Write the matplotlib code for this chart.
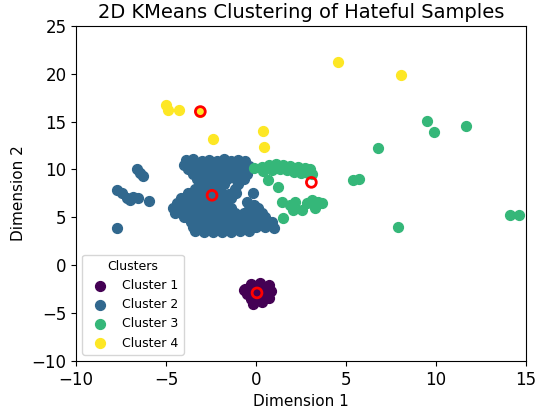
import matplotlib
matplotlib.use("Agg")
import matplotlib.pyplot as plt
import numpy as np

# Cluster 1 (purple)
c1_x = [-0.3, 0.2, 0.7, -0.7, -0.6, -0.1, 0.4, 0.8, -0.5, 0.0, 0.5, -0.3, 0.2, 0.7, -0.1, 0.3, -0.2]
c1_y = [-2.0, -1.9, -2.1, -2.6, -2.5, -2.5, -2.5, -2.7, -3.0, -3.0, -3.1, -3.5, -3.5, -3.4, -3.9, -3.9, -4.1]

# Cluster 2 (blue)
c2_x = [-3.9, -3.5, -3.0, -2.6, -2.2, -1.8, -1.4, -1.0, -0.6,
        -4.0, -3.6, -3.2, -2.8, -2.3, -1.9, -1.5, -1.1, -0.7, -0.4,
        -3.8, -3.4, -3.0, -2.5, -2.1, -1.6, -1.2, -0.8, -0.4,
        -3.5, -3.1, -2.7, -2.2, -1.8, -1.3, -0.9, -0.5,
        -3.3, -2.9, -2.4, -2.0, -1.6, -1.1, -0.7,
        -3.1, -2.7, -2.2, -1.8, -1.0,
        -3.4, -2.9, -2.5, -2.0, -1.2,
        -3.8, -3.3, -2.9, -2.4, -2.0, -1.5, -1.1, -0.2,
        -4.2, -3.7, -3.2, -2.8, -2.3, -1.9, -1.4,
        -4.4, -3.9, -3.5, -3.0, -2.6, -2.1, -1.7, -0.5, -0.1,
        -4.6, -4.1, -3.6, -3.2, -2.7, -2.3, -1.8, -1.4, -0.4, 0.1,
        -4.5, -4.0, -3.5, -3.1, -2.6, -2.2, -1.7, -1.2, -0.7, -0.2, 0.3,
        -4.0, -3.5, -3.0, -2.5, -2.0, -1.5, -1.0, -0.5, 0.0, 0.5,
        -3.6, -3.1, -2.6, -2.1, -1.6, -1.1, -0.6, -0.1, 0.4, 0.9,
        -3.5, -3.0, -2.5, -2.0, -1.5, -1.0, -0.5, 0.0, 0.5, 1.0,
        -3.4, -2.9, -2.4, -1.9, -1.4, -0.9, -0.4,
        -6.6, -6.45, -6.3, -7.74, -7.46, -7.18, -6.82, -6.54, -7.0, -5.93, -7.74]
c2_y = [11.0, 11.1, 10.9, 11.0, 10.9, 11.1, 10.9, 11.0, 10.9,
        10.5, 10.5, 10.5, 10.5, 10.5, 10.5, 10.5, 10.5, 10.5, 10.4,
        10.0, 10.0, 10.0, 10.0, 10.0, 10.0, 10.0, 10.0, 10.0,
        9.5, 9.5, 9.5, 9.5, 9.5, 9.5, 9.5, 9.5,
        9.0, 9.0, 9.0, 9.0, 9.0, 9.0, 9.0,
        8.5, 8.5, 8.5, 8.5, 8.5,
        8.0, 8.0, 8.0, 8.0, 8.0,
        7.5, 7.5, 7.5, 7.5, 7.5, 7.4, 7.5, 7.5,
        7.0, 7.0, 7.0, 7.0, 7.0, 7.0, 7.0,
        6.5, 6.5, 6.5, 6.5, 6.5, 6.5, 6.5, 6.6, 6.3,
        6.0, 6.0, 6.0, 6.0, 6.0, 6.0, 6.0, 6.0, 5.9, 6.0,
        5.5, 5.5, 5.5, 5.5, 5.5, 5.5, 5.5, 5.5, 5.5, 5.5, 5.5,
        5.0, 5.0, 5.0, 5.0, 5.0, 5.0, 5.0, 5.0, 5.0, 5.0,
        4.5, 4.5, 4.5, 4.5, 4.5, 4.5, 4.5, 4.5, 4.5, 4.5,
        4.0, 4.0, 4.0, 4.0, 4.0, 4.0, 4.0, 4.0, 4.0, 3.9,
        3.6, 3.5, 3.5, 3.5, 3.5, 3.6, 3.6,
        10.0, 9.6, 9.3, 7.86, 7.5, 7.0, 7.17, 7.0, 6.82, 6.71, 3.92]

# Cluster 3 (green)
c3_x = [-0.1, 0.3, 0.7, 1.1, 1.5, 1.9, 2.3, 2.7, 3.0,
        0.4, 0.9, 1.3, 1.7, 2.1, 2.5, 2.9, 3.1,
        0.68, 1.24,
        1.43, 1.89, 2.17, 2.54, 2.82, 3.09, 3.46, 3.65, 2.07, 3.28, 1.52,
        2.82, 5.4, 5.7, 7.87, 14.11, 14.63, 6.8, 9.48, 9.91, 11.65]
c3_y = [10.1, 10.3, 10.5, 10.6, 10.5, 10.4, 10.3, 10.1, 10.0,
        9.8, 9.9, 10.0, 9.9, 9.7, 9.6, 9.6, 9.5,
        8.9, 8.2,
        6.64, 6.3, 6.64, 5.77, 6.47, 6.82, 6.64, 6.47, 5.77, 5.95, 4.9,
        9.78, 8.85, 8.95, 4.0, 5.25, 5.25, 12.2, 15.07, 13.96, 14.58]

# Cluster 4 (yellow)
c4_x = [4.56, 8.06, -5.02, -4.87, -4.26, -3.11, -2.37, 0.37, 0.46]
c4_y = [21.2, 19.9, 16.75, 16.2, 16.2, 16.05, 13.2, 14.06, 12.3]

# Centroids
cent_x = [0.05, -2.45, 3.07, -3.1]
cent_y = [-2.9, 7.3, 8.65, 16.05]

cluster_x = [c1_x, c2_x, c3_x, c4_x]
cluster_y = [c1_y, c2_y, c3_y, c4_y]
labels = ["Cluster 1", "Cluster 2", "Cluster 3", "Cluster 4"]

fig = plt.figure(figsize=(5.44, 4.11), dpi=100)
ax = fig.add_axes([0.140, 0.122, 0.827, 0.815])

cmap = plt.get_cmap("viridis")
for i, (xs, ys) in enumerate(zip(cluster_x, cluster_y)):
    ax.scatter(xs, ys, s=50, color=cmap(i / 3), label=labels[i])

ax.scatter(cent_x, cent_y, s=50, facecolors="none", edgecolors="red", linewidths=2)

ax.set_xlim(-10, 15)
ax.set_ylim(-10, 25)
ax.set_title("2D KMeans Clustering of Hateful Samples", fontsize=14)
ax.set_xlabel("Dimension 1", fontsize=11)
ax.set_ylabel("Dimension 2", fontsize=11)
ax.tick_params(labelsize=12)
ax.legend(title="Clusters", loc="lower left", fontsize=9, title_fontsize=9)

fig.savefig("out.png", dpi=100)
